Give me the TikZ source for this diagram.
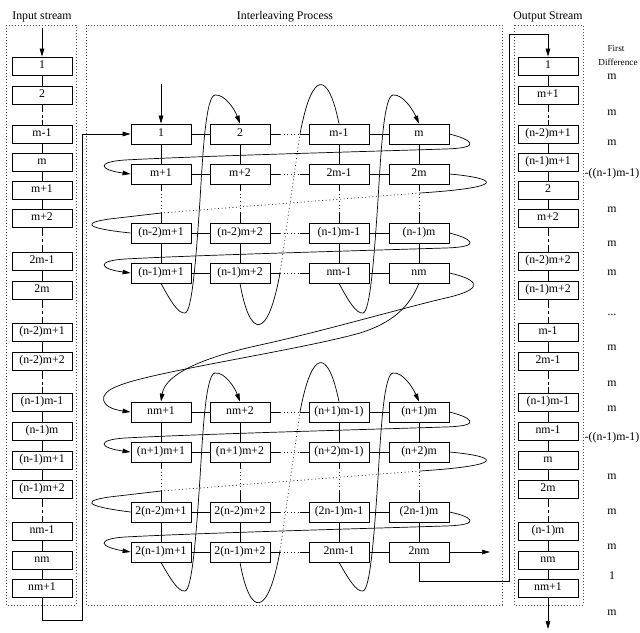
\documentclass[tikz,border=0pt]{standalone}
\usepackage{fontspec}
\setmainfont{Liberation Serif}
\usetikzlibrary{arrows.meta,calc}
\newcommand\lblfont{\fontsize{11.8}{13}\selectfont}
\newcommand\smallerfont{\fontsize{9.2}{10}\selectfont}
\newcommand\elideline[5][gapdot]{%
  \draw (#2) -- ($(#2)!#4!(#3)$);
  \draw[#1] ($(#2)!#4!(#3)$) -- ($(#2)!#5!(#3)$);
  \draw ($(#2)!#5!(#3)$) -- (#3);}
\newcommand\sectioncurves[1]{%
  % column 1 -> column 2
  \draw[arr] (#141.south) .. controls (170,300) and (178,314) .. (185,313)
     .. controls (192,312) and (196,260) .. (200,200)
     .. controls (203,150) and (206,96) .. (215,95)
     .. controls (225,94) and (235,110) .. (#112.north);
  % column m-1 -> column m
  \draw[arr] (#143.south) .. controls (348,300) and (356,314) .. (363,313)
     .. controls (370,312) and (374,260) .. (378,200)
     .. controls (381,150) and (384,96) .. (393,95)
     .. controls (403,94) and (413,110) .. (#114.north);
  % column 2 -> column m-1 (elided)
  \coordinate (#1d1) at (280,273);
  \coordinate (#1d2) at (300,134);
  \draw (#142.south) .. controls (250,340) and (268,340) .. (#1d1);
  \draw[gapdot] (#1d1) -- (#1d2);
  \draw (#1d2) .. controls (312,70) and (328,70) .. (#113.north);
  % row 1 -> row 2
  \draw[arr] (#114.east) .. controls (470,139) and (485,148) .. (445,149)
     .. controls (350,152) and (200,156) .. (125,160)
     .. controls (95,162) and (100,170) .. (#121.west);
  % row 3 -> row 4
  \draw[arr] (#134.east) .. controls (470,238) and (485,247) .. (445,248)
     .. controls (350,251) and (200,255) .. (125,259)
     .. controls (95,261) and (100,269) .. (#141.west);
  % row 2 -> row 3 (elided)
  \coordinate (#1r1) at (420,193);
  \coordinate (#1r2) at (161,213);
  \draw (#124.east) .. controls (495,178) and (512,187) .. (#1r1);
  \draw[gapdot] (#1r1) -- (#1r2);
  \draw (#1r2) -- (118,218) .. controls (80,222) and (82,228) .. (#131.west);
}
\begin{document}
\begin{tikzpicture}[x=1pt,y=-1pt, line width=0.7pt,
  sbox/.style={draw, line width=0.8pt, minimum width=60pt, minimum height=18pt,
    inner sep=0pt, font=\lblfont, text height=7.5pt, text depth=2.3pt},
  gbox/.style={sbox, minimum height=20pt},
  arr/.style={-{Stealth[length=8pt,width=4.6pt,inset=0pt]}},
  frame/.style={draw=black!70, line width=0.6pt, dash pattern=on 0.7pt off 2.3pt},
  gapdot/.style={draw=black!85, dash pattern=on 1pt off 2.6pt},
  gapdash/.style={dash pattern=on 3pt off 3pt},
  lbl/.style={font=\lblfont, inner sep=0pt},
  dlbl/.style={font=\lblfont, inner sep=0pt, text height=7.5pt, text depth=2.3pt}]

\useasboundingbox (0,0) rectangle (640,632);

% frames and titles
\draw[frame] (6,25) rectangle (76,605);
\draw[frame] (86,25) rectangle (502,605);
\draw[frame] (514,25) rectangle (583,605);
\node[lbl] (tin) at (42,16.5) {Input stream};
\node[lbl] (tmid) at (285,16.5) {Interleaving Process};
\node[lbl] (tout) at (548,16.5) {Output Stream};
\node[font=\smallerfont, inner sep=0pt] (tfirst) at (616,48) {First};
\node[font=\smallerfont, inner sep=0pt] (tdiff) at (618,62) {Difference};

% input stream
\foreach \lab/\yy [count=\i] in {1/66, 2/95, m-1/134, m/162, m+1/190, m+2/218,
  2m-1/261, 2m/290, (n-2)m+1/332, (n-2)m+2/361, (n-1)m-1/402, (n-1)m/431,
  (n-1)m+1/460, (n-1)m+2/489, nm-1/531, nm/560, nm+1/588}
  {\node[sbox] (in\i) at (42,\yy) {\lab};}
% output stream
\foreach \lab/\yy [count=\i] in {1/66, m+1/95, (n-2)m+1/134, (n-1)m+1/162, 2/190,
  m+2/218, (n-2)m+2/261, (n-1)m+2/290, m-1/332, 2m-1/361, (n-1)m-1/402,
  nm-1/431, m/460, 2m/489, (n-1)m/531, nm/560, nm+1/588}
  {\node[sbox] (out\i) at (548,\yy) {\lab};}
\foreach \i in {1,3,4,5,7,9,11,12,13,15,16}{
  \pgfmathtruncatemacro\j{\i+1}
  \draw (in\i.south) -- (in\j.north);
  \draw (out\i.south) -- (out\j.north);}
\foreach \i in {2,6,8,10,14}{
  \pgfmathtruncatemacro\j{\i+1}
  \elideline[gapdash]{in\i.south}{in\j.north}{0.25}{0.75}
  \elideline[gapdash]{out\i.south}{out\j.north}{0.25}{0.75}}

% first differences
\foreach \lab/\yy [count=\i] in {m/77, m/113, m/143, -((n-1)m-1)/174, m/210,
  m/244, m/273}
  {\node[dlbl] (da\i) at (612,\yy) {\lab};}
\node[dlbl] (ddots) at (612,313) {...};
\foreach \lab/\yy [count=\i] in {m/348, m/384, m/409, -((n-1)m-1)/438, m/477,
  m/512, m/547, 1/577, m/613}
  {\node[dlbl] (db\i) at (612,\yy) {\lab};}

% grid
\foreach \rw/\yy/\labA/\labB/\labC/\labD in {
  a1/134/1/2/m-1/m,
  a2/174/m+1/m+2/2m-1/2m,
  a3/233/(n-2)m+1/(n-2)m+2/(n-1)m-1/(n-1)m,
  a4/273/(n-1)m+1/(n-1)m+2/nm-1/nm,
  b1/412/nm+1/nm+2/(n+1)m-1)/(n+1)m,
  b2/452/(n+1)m+1/(n+1)m+2/(n+2)m-1)/(n+2)m,
  b3/512/2(n-2)m+1/2(n-2)m+2/(2n-1)m-1/(2n-1)m,
  b4/552/2(n-1)m+1/2(n-1)m+2/2nm-1/2nm}{
  \node[gbox] (\rw1) at (161,\yy) {\labA};
  \node[gbox] (\rw2) at (240,\yy) {\labB};
  \node[gbox] (\rw3) at (339,\yy) {\labC};
  \node[gbox] (\rw4) at (419,\yy) {\labD};}
\foreach \sn in {a,b}{
  \foreach \kk in {1,2,3,4}{
    \draw (\sn\kk1.east) -- (\sn\kk2.west);
    \draw (\sn\kk3.east) -- (\sn\kk4.west);
    \elideline{\sn\kk2.east}{\sn\kk3.west}{0.25}{0.77}
    \draw (\sn1\kk.south) -- (\sn2\kk.north);
    \elideline{\sn2\kk.south}{\sn3\kk.north}{0.15}{0.72}
    \draw (\sn3\kk.south) -- (\sn4\kk.north);}}

\sectioncurves{a}
\begin{scope}[yshift=-278pt]
\sectioncurves{b}
\end{scope}

% transition from first block to second block
\draw[arr] (a44.east) .. controls (472,278) and (490,287) .. (450,297)
   .. controls (410,306) and (320,332) .. (260,345)
   .. controls (200,358) and (165,375) .. (b11.north);
\draw[arr] (a44.south) .. controls (410,305) and (395,322) .. (360,333)
   .. controls (300,350) and (150,372) .. (118,386)
   .. controls (96,394) and (100,408) .. (b11.west);

% entry / exit connections
\coordinate (intop) at (42,28);
\draw[arr] (intop) -- (in1.north);
\coordinate (gtop) at (161,84);
\draw[arr] (gtop) -- (a11.north);
\coordinate (inlow) at (82,620);
\draw[arr] (in17.south) |- (inlow) |- (a11.west);
\coordinate (rend) at (490,552);
\draw[arr] (b44.east) -- (rend);
\coordinate (outlow) at (509,581);
\coordinate (outhigh) at (509,34);
\draw[arr] (b44.south) |- (outlow) -- (outhigh) -| (out1.north);
\coordinate (outbot) at (548,629);
\draw[arr] (out17.south) -- (outbot);
\end{tikzpicture}
\end{document}
